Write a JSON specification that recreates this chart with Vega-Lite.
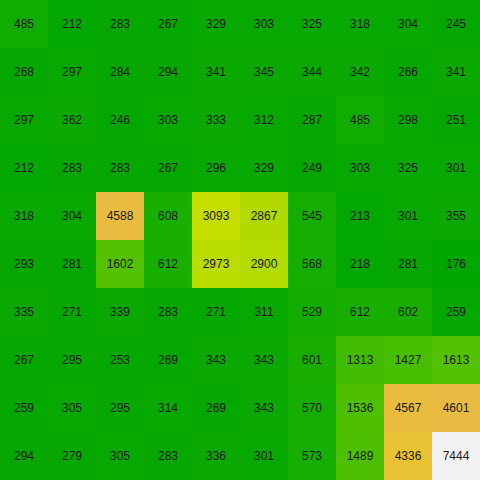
{
  "$schema": "https://vega.github.io/schema/vega-lite/v6.json",
  "width": 480,
  "height": 480,
  "padding": 0,
  "autosize": {"type": "fit", "contains": "padding"},
  "config": {"view": {"stroke": null}},
  "data": {"values": [
    {"r":0,"c":0,"v":485},{"r":0,"c":1,"v":212},{"r":0,"c":2,"v":283},{"r":0,"c":3,"v":267},{"r":0,"c":4,"v":329},{"r":0,"c":5,"v":303},{"r":0,"c":6,"v":325},{"r":0,"c":7,"v":318},{"r":0,"c":8,"v":304},{"r":0,"c":9,"v":245},
    {"r":1,"c":0,"v":268},{"r":1,"c":1,"v":297},{"r":1,"c":2,"v":284},{"r":1,"c":3,"v":294},{"r":1,"c":4,"v":341},{"r":1,"c":5,"v":345},{"r":1,"c":6,"v":344},{"r":1,"c":7,"v":342},{"r":1,"c":8,"v":266},{"r":1,"c":9,"v":341},
    {"r":2,"c":0,"v":297},{"r":2,"c":1,"v":362},{"r":2,"c":2,"v":246},{"r":2,"c":3,"v":303},{"r":2,"c":4,"v":333},{"r":2,"c":5,"v":312},{"r":2,"c":6,"v":287},{"r":2,"c":7,"v":485},{"r":2,"c":8,"v":298},{"r":2,"c":9,"v":251},
    {"r":3,"c":0,"v":212},{"r":3,"c":1,"v":283},{"r":3,"c":2,"v":283},{"r":3,"c":3,"v":267},{"r":3,"c":4,"v":296},{"r":3,"c":5,"v":329},{"r":3,"c":6,"v":249},{"r":3,"c":7,"v":303},{"r":3,"c":8,"v":325},{"r":3,"c":9,"v":301},
    {"r":4,"c":0,"v":318},{"r":4,"c":1,"v":304},{"r":4,"c":2,"v":4588},{"r":4,"c":3,"v":608},{"r":4,"c":4,"v":3093},{"r":4,"c":5,"v":2867},{"r":4,"c":6,"v":545},{"r":4,"c":7,"v":213},{"r":4,"c":8,"v":301},{"r":4,"c":9,"v":355},
    {"r":5,"c":0,"v":293},{"r":5,"c":1,"v":281},{"r":5,"c":2,"v":1602},{"r":5,"c":3,"v":612},{"r":5,"c":4,"v":2973},{"r":5,"c":5,"v":2900},{"r":5,"c":6,"v":568},{"r":5,"c":7,"v":218},{"r":5,"c":8,"v":281},{"r":5,"c":9,"v":176},
    {"r":6,"c":0,"v":335},{"r":6,"c":1,"v":271},{"r":6,"c":2,"v":339},{"r":6,"c":3,"v":283},{"r":6,"c":4,"v":271},{"r":6,"c":5,"v":311},{"r":6,"c":6,"v":529},{"r":6,"c":7,"v":612},{"r":6,"c":8,"v":602},{"r":6,"c":9,"v":259},
    {"r":7,"c":0,"v":267},{"r":7,"c":1,"v":295},{"r":7,"c":2,"v":253},{"r":7,"c":3,"v":269},{"r":7,"c":4,"v":343},{"r":7,"c":5,"v":343},{"r":7,"c":6,"v":601},{"r":7,"c":7,"v":1313},{"r":7,"c":8,"v":1427},{"r":7,"c":9,"v":1613},
    {"r":8,"c":0,"v":259},{"r":8,"c":1,"v":305},{"r":8,"c":2,"v":295},{"r":8,"c":3,"v":314},{"r":8,"c":4,"v":269},{"r":8,"c":5,"v":343},{"r":8,"c":6,"v":570},{"r":8,"c":7,"v":1536},{"r":8,"c":8,"v":4567},{"r":8,"c":9,"v":4601},
    {"r":9,"c":0,"v":294},{"r":9,"c":1,"v":279},{"r":9,"c":2,"v":305},{"r":9,"c":3,"v":283},{"r":9,"c":4,"v":336},{"r":9,"c":5,"v":301},{"r":9,"c":6,"v":573},{"r":9,"c":7,"v":1489},{"r":9,"c":8,"v":4336},{"r":9,"c":9,"v":7444}
  ]},
  "encoding": {
    "x": {"field": "c", "type": "ordinal", "axis": null, "scale": {"paddingInner": 0, "paddingOuter": 0}},
    "y": {"field": "r", "type": "ordinal", "axis": null, "scale": {"paddingInner": 0, "paddingOuter": 0}}
  },
  "layer": [
    {
      "mark": {"type": "rect"},
      "encoding": {
        "color": {
          "field": "v", "type": "quantitative", "legend": null,
          "scale": {
            "domain": [176, 836.7, 1497.5, 2158.2, 2818.9, 3479.6, 4140.4, 4801.1, 5461.8, 6122.5, 6783.3, 7444],
            "range": ["#00A600", "#24B300", "#4CBF00", "#7ACC00", "#ADD900", "#E6E600", "#E8C727", "#EAB64E", "#ECB176", "#EEB99F", "#F0CFC8", "#F2F2F2"],
            "interpolate": "rgb"
          }
        }
      }
    },
    {
      "mark": {"type": "text", "font": "Liberation Sans", "fontSize": 12, "color": "#1a1a1a"},
      "encoding": {"text": {"field": "v", "type": "quantitative", "format": "d"}}
    }
  ]
}
